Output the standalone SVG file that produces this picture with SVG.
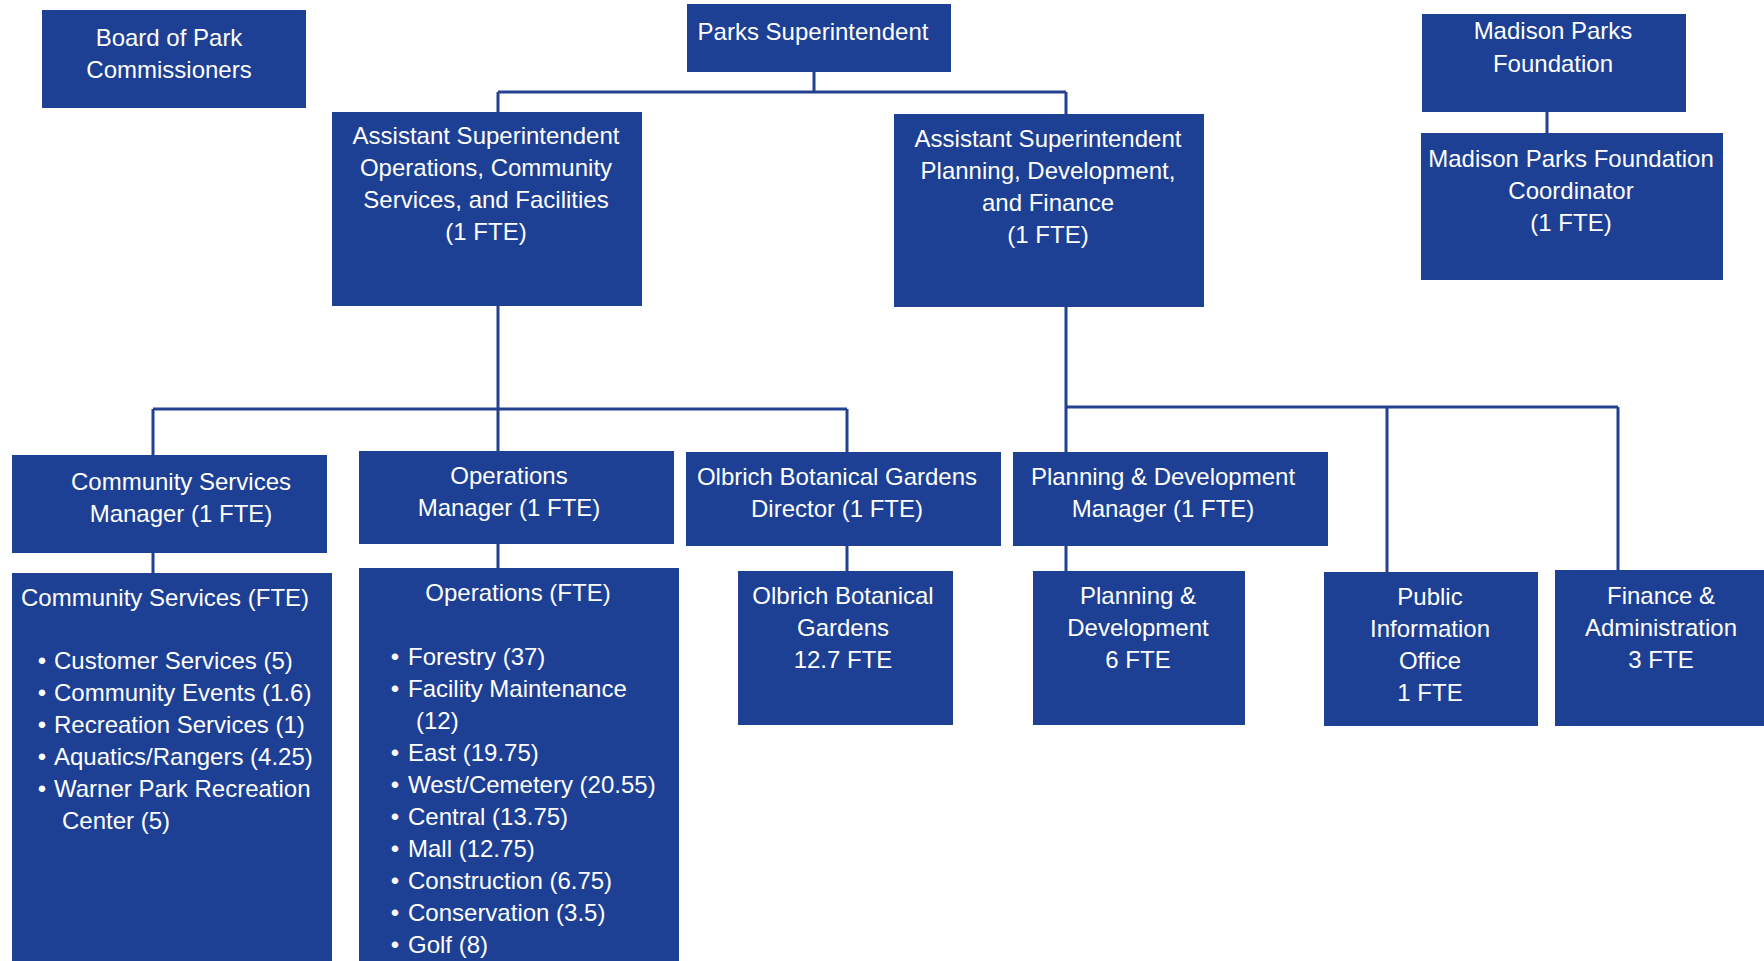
<svg xmlns="http://www.w3.org/2000/svg" width="1764" height="961" viewBox="0 0 1764 961">
<style>
.box{fill:#1d3f94}
.t{font-family:"Liberation Sans",Arial,sans-serif;font-size:24px;fill:#ffffff}
.c{text-anchor:middle}
.ln{stroke:#23418f;stroke-width:3;fill:none}
</style>
<rect width="1764" height="961" fill="#ffffff"/>
<g id="connectors">
<path class="ln" d="M814 71V92M498 92H1066M498 92V113M1066 92V115"/>
<path class="ln" d="M498 306V452M153 409H847M153 409V456M847 409V453"/>
<path class="ln" d="M153 552V574M498 543V569M847 545V572"/>
<path class="ln" d="M1066 306V453M1066 407H1618M1387 407V573M1618 407V571M1066 545V572"/>
<path class="ln" d="M1547 111V134"/>
</g>
<g id="board">
<rect class="box" x="42" y="10" width="264" height="98"/>
<text class="t c" x="169" y="46">Board of Park</text>
<text class="t c" x="169" y="78">Commissioners</text>
</g>
<g id="superintendent">
<rect class="box" x="687" y="4" width="264" height="68"/>
<text class="t c" x="813" y="40">Parks Superintendent</text>
</g>
<g id="foundation">
<rect class="box" x="1422" y="14" width="264" height="98"/>
<text class="t c" x="1553" y="39">Madison Parks</text>
<text class="t c" x="1553" y="72">Foundation</text>
</g>
<g id="foundation-coordinator">
<rect class="box" x="1421" y="133" width="302" height="147"/>
<text class="t c" x="1571" y="167">Madison Parks Foundation</text>
<text class="t c" x="1571" y="199">Coordinator</text>
<text class="t c" x="1571" y="231">(1 FTE)</text>
</g>
<g id="asst-ops">
<rect class="box" x="332" y="112" width="310" height="194"/>
<text class="t c" x="486" y="144">Assistant Superintendent</text>
<text class="t c" x="486" y="176">Operations, Community</text>
<text class="t c" x="486" y="208">Services, and Facilities</text>
<text class="t c" x="486" y="240">(1 FTE)</text>
</g>
<g id="asst-planning">
<rect class="box" x="894" y="114" width="310" height="193"/>
<text class="t c" x="1048" y="147">Assistant Superintendent</text>
<text class="t c" x="1048" y="179">Planning, Development,</text>
<text class="t c" x="1048" y="211">and Finance</text>
<text class="t c" x="1048" y="243">(1 FTE)</text>
</g>
<g id="cs-manager">
<rect class="box" x="12" y="455" width="315" height="98"/>
<text class="t c" x="181" y="490">Community Services</text>
<text class="t c" x="181" y="522">Manager (1 FTE)</text>
</g>
<g id="ops-manager">
<rect class="box" x="359" y="451" width="315" height="93"/>
<text class="t c" x="509" y="484">Operations</text>
<text class="t c" x="509" y="516">Manager (1 FTE)</text>
</g>
<g id="olbrich-director">
<rect class="box" x="686" y="452" width="315" height="94"/>
<text class="t c" x="837" y="485">Olbrich Botanical Gardens</text>
<text class="t c" x="837" y="517">Director (1 FTE)</text>
</g>
<g id="pd-manager">
<rect class="box" x="1013" y="452" width="315" height="94"/>
<text class="t c" x="1163" y="485">Planning &amp; Development</text>
<text class="t c" x="1163" y="517">Manager (1 FTE)</text>
</g>
<g id="cs-staff">
<rect class="box" x="12" y="573" width="320" height="388"/>
<text class="t" x="21" y="606">Community Services (FTE)</text>
<text class="t c" x="42" y="669">•</text><text class="t" x="54" y="669">Customer Services (5)</text>
<text class="t c" x="42" y="701">•</text><text class="t" x="54" y="701">Community Events (1.6)</text>
<text class="t c" x="42" y="733">•</text><text class="t" x="54" y="733">Recreation Services (1)</text>
<text class="t c" x="42" y="765">•</text><text class="t" x="54" y="765">Aquatics/Rangers (4.25)</text>
<text class="t c" x="42" y="797">•</text><text class="t" x="54" y="797">Warner Park Recreation</text>
<text class="t" x="62" y="829">Center (5)</text>
</g>
<g id="ops-staff">
<rect class="box" x="359" y="568" width="320" height="393"/>
<text class="t c" x="518" y="601">Operations (FTE)</text>
<text class="t c" x="395" y="665">•</text><text class="t" x="408" y="665">Forestry (37)</text>
<text class="t c" x="395" y="697">•</text><text class="t" x="408" y="697">Facility Maintenance</text>
<text class="t" x="416" y="729">(12)</text>
<text class="t c" x="395" y="761">•</text><text class="t" x="408" y="761">East (19.75)</text>
<text class="t c" x="395" y="793">•</text><text class="t" x="408" y="793">West/Cemetery (20.55)</text>
<text class="t c" x="395" y="825">•</text><text class="t" x="408" y="825">Central (13.75)</text>
<text class="t c" x="395" y="857">•</text><text class="t" x="408" y="857">Mall (12.75)</text>
<text class="t c" x="395" y="889">•</text><text class="t" x="408" y="889">Construction (6.75)</text>
<text class="t c" x="395" y="921">•</text><text class="t" x="408" y="921">Conservation (3.5)</text>
<text class="t c" x="395" y="953">•</text><text class="t" x="408" y="953">Golf (8)</text>
</g>
<g id="olbrich-staff">
<rect class="box" x="738" y="571" width="215" height="154"/>
<text class="t c" x="843" y="604">Olbrich Botanical</text>
<text class="t c" x="843" y="636">Gardens</text>
<text class="t c" x="843" y="668">12.7 FTE</text>
</g>
<g id="pd-staff">
<rect class="box" x="1033" y="571" width="212" height="154"/>
<text class="t c" x="1138" y="604">Planning &amp;</text>
<text class="t c" x="1138" y="636">Development</text>
<text class="t c" x="1138" y="668">6 FTE</text>
</g>
<g id="public-info">
<rect class="box" x="1324" y="572" width="214" height="154"/>
<text class="t c" x="1430" y="605">Public</text>
<text class="t c" x="1430" y="637">Information</text>
<text class="t c" x="1430" y="669">Office</text>
<text class="t c" x="1430" y="701">1 FTE</text>
</g>
<g id="finance-admin">
<rect class="box" x="1555" y="570" width="209" height="156"/>
<text class="t c" x="1661" y="604">Finance &amp;</text>
<text class="t c" x="1661" y="636">Administration</text>
<text class="t c" x="1661" y="668">3 FTE</text>
</g>
</svg>
